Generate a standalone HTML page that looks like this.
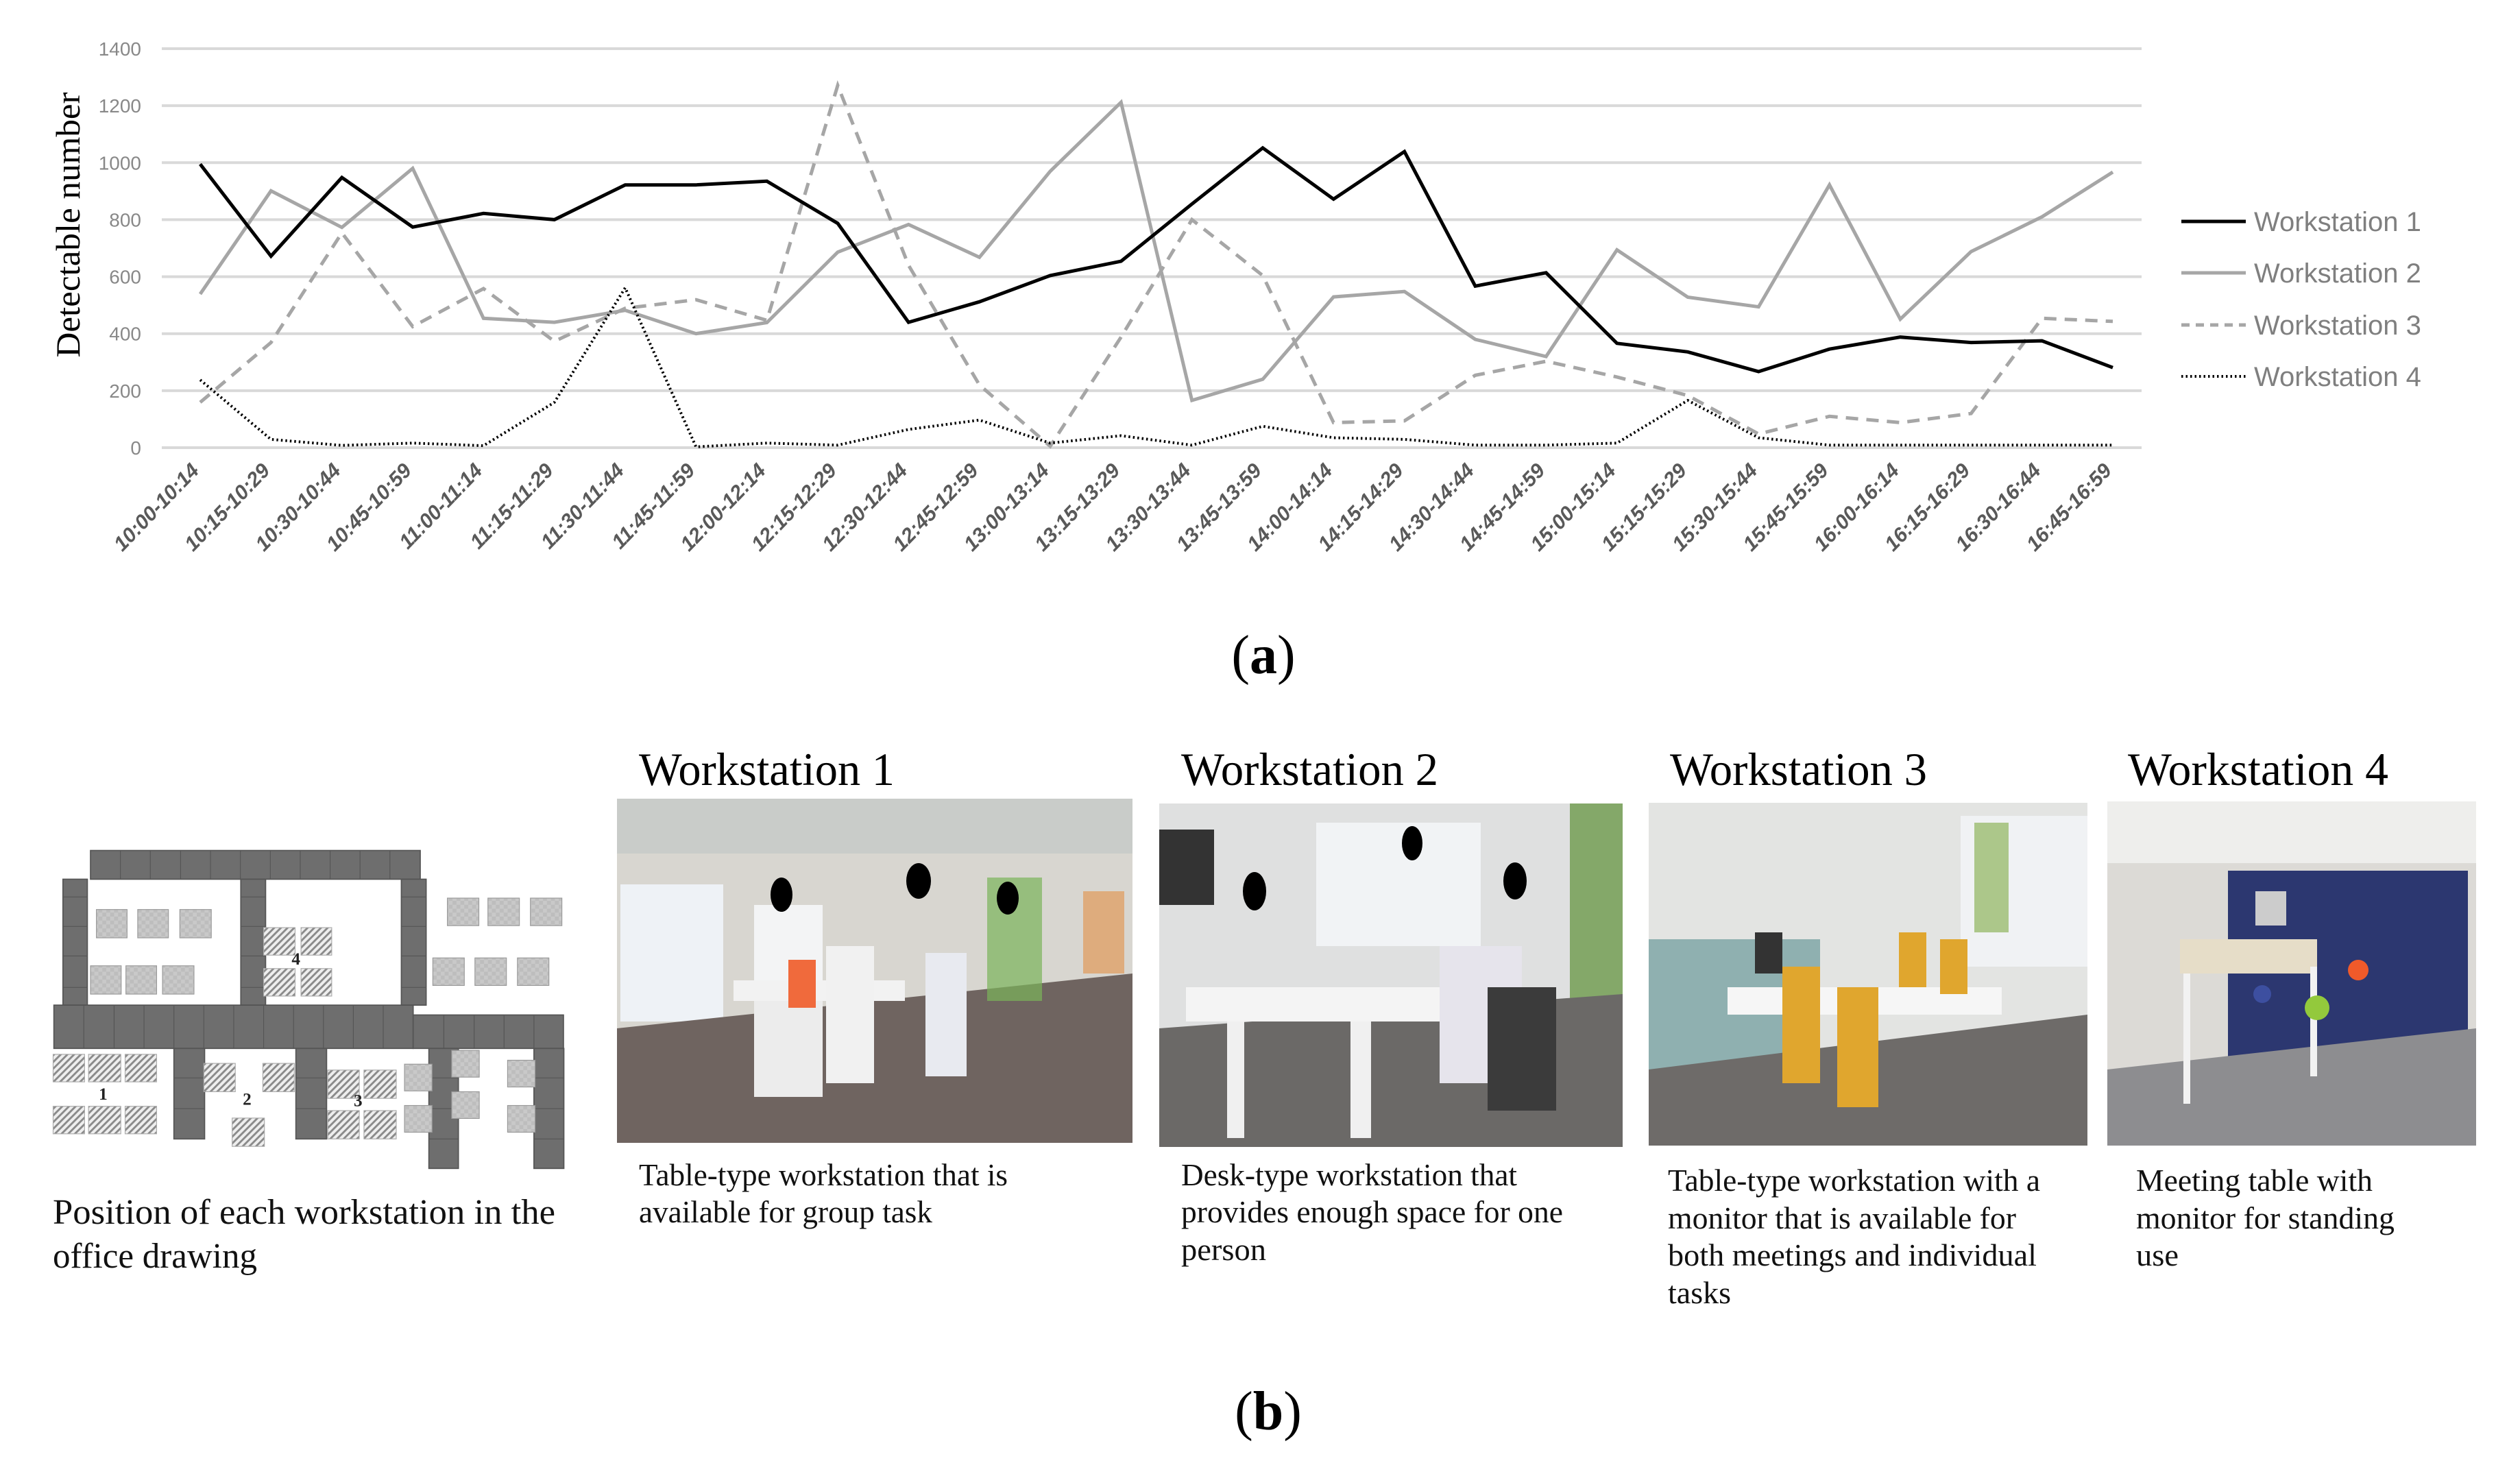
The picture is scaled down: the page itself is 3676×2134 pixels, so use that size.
<!DOCTYPE html>
<html><head><meta charset="utf-8"><style>
html,body{margin:0;padding:0;background:#fff;}
svg{display:block;}
</style></head>
<body>
<svg id="fig" xmlns="http://www.w3.org/2000/svg" width="3676" height="2134" viewBox="0 0 3676 2134">
<rect width="3676" height="2134" fill="#fff"/>
<g id="chart"></g>
<text transform="translate(116,328) rotate(-90)" text-anchor="middle" font-family="Liberation Serif, serif" font-size="50" textLength="387" lengthAdjust="spacingAndGlyphs" fill="#000">Detectable number</text>
<g font-family="Liberation Sans, sans-serif" font-size="40" fill="#7f7f7f">
 <g><line x1="3182" y1="323" x2="3276" y2="323" stroke="#000" stroke-width="5"/><text x="3288" y="337">Workstation 1</text></g>
 <g><line x1="3182" y1="398" x2="3276" y2="398" stroke="#a6a6a6" stroke-width="5"/><text x="3288" y="412">Workstation 2</text></g>
 <g><line x1="3182" y1="474" x2="3276" y2="474" stroke="#a6a6a6" stroke-width="5" stroke-dasharray="12,9"/><text x="3288" y="488">Workstation 3</text></g>
 <g><line x1="3182" y1="549" x2="3276" y2="549" stroke="#000" stroke-width="4" stroke-dasharray="2.5,4"/><text x="3288" y="563">Workstation 4</text></g>
</g>
<text x="1843" y="982" text-anchor="middle" font-family="Liberation Serif, serif" font-size="80">(<tspan font-weight="bold">a</tspan>)</text>
<text x="1850" y="2085" text-anchor="middle" font-family="Liberation Serif, serif" font-size="80">(<tspan font-weight="bold">b</tspan>)</text>

<svg x="0" y="1050" width="900" height="900" viewBox="0 0 1568 1568">
 <defs>
  <pattern id="hatch" width="12" height="12" patternUnits="userSpaceOnUse" patternTransform="rotate(45)"><rect width="12" height="12" fill="#eee"/><rect width="5" height="12" fill="#8a8a8a"/></pattern>
  <pattern id="check" width="20" height="20" patternUnits="userSpaceOnUse"><rect width="20" height="20" fill="#bdbdbd"/><rect width="10" height="10" fill="#c9c9c9"/><rect x="10" y="10" width="10" height="10" fill="#c9c9c9"/></pattern>
 </defs>
 <g fill="#6e6e6e" stroke="#555" stroke-width="3">
  <rect x="230" y="332" width="838" height="73"/>
  <rect x="160" y="405" width="62" height="320"/>
  <rect x="612" y="405" width="63" height="320"/>
  <rect x="1020" y="405" width="63" height="320"/>
  <rect x="137" y="725" width="913" height="110"/>
  <rect x="1050" y="750" width="382" height="85"/>
  <rect x="442" y="835" width="78" height="230"/>
  <rect x="752" y="835" width="78" height="230"/>
  <rect x="1090" y="835" width="75" height="305"/>
  <rect x="1357" y="835" width="76" height="305"/>
 </g>
 <g stroke="#555" stroke-width="2" fill="none">
  <path d="M306 332v73M382 332v73M459 332v73M535 332v73M611 332v73M687 332v73M763 332v73M839 332v73M915 332v73M991 332v73"/>
  <path d="M213 725v110M290 725v110M366 725v110M442 725v110M518 725v110M594 725v110M670 725v110M746 725v110M822 725v110M898 725v110M974 725v110M1128 750v85M1205 750v85M1281 750v85M1357 750v85"/>
  <path d="M160 450h62M160 525h62M160 600h62M160 680h62M612 450h63M612 525h63M612 600h63M612 680h63M1020 450h63M1020 525h63M1020 600h63M1020 680h63"/>
  <path d="M442 910h78M442 988h78M752 910h78M752 988h78M1090 910h75M1090 988h75M1090 1065h75M1357 910h76M1357 988h76M1357 1065h76"/>
 </g>
 <g fill="url(#check)" stroke="#999" stroke-width="2">
  <rect x="245" y="482" width="78" height="72"/><rect x="350" y="482" width="78" height="72"/><rect x="457" y="482" width="80" height="72"/>
  <rect x="230" y="625" width="78" height="72"/><rect x="320" y="625" width="78" height="72"/><rect x="413" y="625" width="80" height="72"/>
  <rect x="1137" y="453" width="80" height="70"/><rect x="1240" y="453" width="80" height="70"/><rect x="1348" y="453" width="80" height="70"/>
  <rect x="1100" y="605" width="80" height="70"/><rect x="1207" y="605" width="80" height="70"/><rect x="1315" y="605" width="80" height="70"/>
  <rect x="1028" y="875" width="70" height="68"/><rect x="1148" y="840" width="70" height="68"/><rect x="1028" y="980" width="70" height="68"/><rect x="1148" y="945" width="70" height="68"/><rect x="1290" y="865" width="70" height="68"/><rect x="1290" y="980" width="70" height="68"/>
 </g>
 <g fill="url(#hatch)" stroke="#aaa" stroke-width="2">
  <rect x="670" y="528" width="80" height="70"/><rect x="765" y="528" width="78" height="70"/><rect x="670" y="632" width="80" height="70"/><rect x="765" y="632" width="78" height="70"/>
  <rect x="135" y="850" width="80" height="70"/><rect x="225" y="850" width="82" height="70"/><rect x="318" y="850" width="80" height="70"/>
  <rect x="135" y="982" width="80" height="70"/><rect x="225" y="982" width="82" height="70"/><rect x="318" y="982" width="80" height="70"/>
  <rect x="518" y="873" width="80" height="72"/><rect x="668" y="873" width="80" height="72"/><rect x="590" y="1012" width="82" height="72"/>
  <rect x="833" y="890" width="80" height="72"/><rect x="925" y="890" width="82" height="72"/><rect x="833" y="993" width="80" height="72"/><rect x="925" y="993" width="82" height="72"/>
 </g>
 <g font-family="Liberation Serif, serif" font-size="44" font-weight="bold" fill="#222" text-anchor="middle">
  <text x="752" y="622">4</text>
  <text x="262" y="965">1</text>
  <text x="628" y="978">2</text>
  <text x="910" y="982">3</text>
 </g>
</svg>
<g font-family="Liberation Serif, serif" font-size="52" fill="#111">
 <text x="77" y="1785" textLength="733" lengthAdjust="spacingAndGlyphs">Position of each workstation in the</text>
 <text x="77" y="1849" textLength="298" lengthAdjust="spacingAndGlyphs">office drawing</text>
</g>

<g font-family="Liberation Serif, serif" font-size="68" fill="#000">
 <text x="932" y="1145" textLength="373" lengthAdjust="spacingAndGlyphs">Workstation 1</text>
 <text x="1723" y="1145" textLength="375" lengthAdjust="spacingAndGlyphs">Workstation 2</text>
 <text x="2436" y="1145" textLength="375" lengthAdjust="spacingAndGlyphs">Workstation 3</text>
 <text x="3104" y="1145" textLength="380" lengthAdjust="spacingAndGlyphs">Workstation 4</text>
</g>

<g>
 <rect x="900" y="1165" width="752" height="502" fill="#d8d6d0"/>
 <rect x="900" y="1165" width="752" height="80" fill="#c9ccc9"/>
 <rect x="905" y="1290" width="150" height="200" fill="#eef2f6"/>
 <rect x="1100" y="1320" width="100" height="150" fill="#f3f4f5"/>
 <polygon points="900,1500 1652,1420 1652,1667 900,1667" fill="#6f6460"/>
 <rect x="1070" y="1430" width="250" height="30" fill="#f2f2f2"/>
 <rect x="1100" y="1460" width="100" height="140" fill="#ececec"/>
 <rect x="1150" y="1400" width="40" height="70" fill="#f06a3c"/>
 <rect x="1205" y="1380" width="70" height="200" fill="#f1f1f1"/>
 <rect x="1350" y="1390" width="60" height="180" fill="#e8eaf0"/>
 <rect x="1440" y="1280" width="80" height="180" fill="#7bb35a" opacity="0.7"/>
 <rect x="1580" y="1300" width="60" height="120" fill="#e19a5a" opacity="0.7"/>
 <ellipse cx="1140" cy="1305" rx="16" ry="25" fill="#000"/><ellipse cx="1340" cy="1285" rx="18" ry="26" fill="#000"/><ellipse cx="1470" cy="1310" rx="16" ry="24" fill="#000"/>
</g>
<g>
 <rect x="1691" y="1172" width="676" height="501" fill="#dfe0e0"/>
 <rect x="1920" y="1200" width="240" height="180" fill="#f1f3f5"/>
 <rect x="1691" y="1210" width="80" height="110" fill="#333"/>
 <rect x="2290" y="1172" width="77" height="300" fill="#6d9a4b" opacity="0.8"/>
 <polygon points="1691,1500 2367,1450 2367,1673 1691,1673" fill="#6b6967"/>
 <rect x="1730" y="1440" width="400" height="50" fill="#f4f4f4"/>
 <rect x="1790" y="1490" width="25" height="170" fill="#f0f0f0"/><rect x="1970" y="1490" width="30" height="170" fill="#f0f0f0"/>
 <rect x="2100" y="1380" width="120" height="200" fill="#e6e4ec"/>
 <rect x="2170" y="1440" width="100" height="180" fill="#3b3b3b"/>
 <ellipse cx="2060" cy="1230" rx="15" ry="25" fill="#000"/><ellipse cx="1830" cy="1300" rx="17" ry="28" fill="#000"/><ellipse cx="2210" cy="1285" rx="17" ry="27" fill="#000"/>
</g>
<g>
 <rect x="2405" y="1171" width="640" height="500" fill="#e3e4e2"/>
 <rect x="2860" y="1190" width="185" height="220" fill="#f0f2f4"/>
 <rect x="2405" y="1370" width="250" height="210" fill="#8fb0b0"/>
 <polygon points="2405,1560 3045,1480 3045,1671 2405,1671" fill="#6e6b69"/>
 <rect x="2520" y="1440" width="400" height="40" fill="#f6f6f6"/>
 <rect x="2600" y="1410" width="55" height="170" fill="#e0a62e"/><rect x="2680" y="1440" width="60" height="175" fill="#e0a62e"/>
 <rect x="2770" y="1360" width="40" height="80" fill="#e0a62e"/><rect x="2830" y="1370" width="40" height="80" fill="#e0a62e"/>
 <rect x="2560" y="1360" width="40" height="60" fill="#333"/>
 <rect x="2880" y="1200" width="50" height="160" fill="#8fb55c" opacity="0.7"/>
</g>
<g>
 <rect x="3074" y="1169" width="538" height="502" fill="#dcdad6"/>
 <rect x="3074" y="1169" width="538" height="90" fill="#eeeeec"/>
 <rect x="3250" y="1270" width="350" height="300" fill="#2c3770"/>
 <polygon points="3074,1560 3612,1500 3612,1671 3074,1671" fill="#8d8d90"/>
 <rect x="3180" y="1370" width="200" height="50" fill="#e6ddc8"/>
 <rect x="3185" y="1420" width="10" height="190" fill="#f2f2f2"/><rect x="3370" y="1410" width="10" height="160" fill="#f2f2f2"/>
 <rect x="3290" y="1300" width="45" height="50" fill="#ccc"/>
 <circle cx="3380" cy="1470" r="18" fill="#93c93c"/><circle cx="3440" cy="1415" r="15" fill="#f05a2a"/><circle cx="3300" cy="1450" r="13" fill="#3d4fa0"/>
</g>

<g font-family="Liberation Serif, serif" font-size="46" fill="#111">
 <g>
  <text x="932" y="1729" textLength="538" lengthAdjust="spacingAndGlyphs">Table-type workstation that is</text>
  <text x="932" y="1783" textLength="428" lengthAdjust="spacingAndGlyphs">available for group task</text>
 </g>
 <g>
  <text x="1723" y="1729" textLength="490" lengthAdjust="spacingAndGlyphs">Desk-type workstation that</text>
  <text x="1723" y="1783" textLength="557" lengthAdjust="spacingAndGlyphs">provides enough space for one</text>
  <text x="1723" y="1838" textLength="124" lengthAdjust="spacingAndGlyphs">person</text>
 </g>
 <g>
  <text x="2433" y="1737" textLength="543" lengthAdjust="spacingAndGlyphs">Table-type workstation with a</text>
  <text x="2433" y="1792" textLength="508" lengthAdjust="spacingAndGlyphs">monitor that is available for</text>
  <text x="2433" y="1846" textLength="538" lengthAdjust="spacingAndGlyphs">both meetings and individual</text>
  <text x="2433" y="1901" textLength="92" lengthAdjust="spacingAndGlyphs">tasks</text>
 </g>
 <g>
  <text x="3116" y="1737" textLength="345" lengthAdjust="spacingAndGlyphs">Meeting table with</text>
  <text x="3116" y="1792" textLength="377" lengthAdjust="spacingAndGlyphs">monitor for standing</text>
  <text x="3116" y="1846" textLength="62" lengthAdjust="spacingAndGlyphs">use</text>
 </g>
</g>
</svg>
<script>
const categories = ["10:00-10:14","10:15-10:29","10:30-10:44","10:45-10:59","11:00-11:14","11:15-11:29","11:30-11:44","11:45-11:59","12:00-12:14","12:15-12:29","12:30-12:44","12:45-12:59","13:00-13:14","13:15-13:29","13:30-13:44","13:45-13:59","14:00-14:14","14:15-14:29","14:30-14:44","14:45-14:59","15:00-15:14","15:15-15:29","15:30-15:44","15:45-15:59","16:00-16:14","16:15-16:29","16:30-16:44","16:45-16:59"];
const ws1 = [995,672,948,774,822,800,922,922,935,787,440,512,604,654,855,1052,872,1039,567,614,366,336,267,346,388,369,375,281];
const ws2 = [539,901,773,980,454,440,482,400,439,686,783,668,970,1212,166,240,529,548,380,320,694,528,494,922,451,688,810,967];
const ws3 = [159,369,754,425,558,373,489,519,447,1271,640,220,5,388,800,604,88,94,254,303,248,183,48,110,88,120,454,443];
const ws4 = [238,29,8,16,7,159,561,3,16,9,64,97,16,42,9,75,35,29,9,9,16,166,35,9,9,9,9,9];
const yTicks = [0,200,400,600,800,1000,1200,1400];

const NS = "http://www.w3.org/2000/svg";
const chart = document.getElementById('chart');
const X0 = 292, X1 = 3082, Y0 = 653, Y1 = 71, VMAX = 1400;
function xScale(i){ return X0 + i*(X1-X0)/(categories.length-1); }
function yScale(v){ return Y0 - v*(Y0-Y1)/VMAX; }
function mk(tag, attrs){ const e=document.createElementNS(NS,tag); for(const k in attrs) e.setAttribute(k,attrs[k]); return e; }

yTicks.forEach(t=>{
  const g = mk('line',{x1:236,x2:3124,y1:yScale(t),y2:yScale(t),stroke:'#d9d9d9','stroke-width':4});
  
  
  chart.appendChild(g);
  const tx = mk('text',{x:206,y:yScale(t)+10,'text-anchor':'end','font-family':'Liberation Sans, sans-serif','font-size':28,fill:'#888'});
  tx.textContent = t;
  
  
  chart.appendChild(tx);
});
categories.forEach((c,i)=>{
  const x = xScale(i);
  const tx = mk('text',{transform:`translate(${x},688) rotate(-46)`,'text-anchor':'end','font-family':'Liberation Sans, sans-serif','font-size':30,'font-style':'italic','font-weight':'bold',fill:'#595959'});
  tx.textContent = c;
  
  
  chart.appendChild(tx);
});
const series = [
  {name:'series-workstation-3', data:ws3, stroke:'#a6a6a6', w:5, dash:'18,12'},
  {name:'series-workstation-2', data:ws2, stroke:'#a6a6a6', w:5, dash:''},
  {name:'series-workstation-4', data:ws4, stroke:'#000', w:4, dash:'2.5,4'},
  {name:'series-workstation-1', data:ws1, stroke:'#000', w:5, dash:''}
];
series.forEach(s=>{
  const pts = s.data.map((v,i)=>xScale(i).toFixed(1)+','+yScale(v).toFixed(1)).join(' ');
  const p = mk('polyline',{points:pts,fill:'none',stroke:s.stroke,'stroke-width':s.w,'stroke-linejoin':'miter'});
  if(s.dash) p.setAttribute('stroke-dasharray',s.dash);
  
  
  chart.appendChild(p);
});
</script>
</body></html>
